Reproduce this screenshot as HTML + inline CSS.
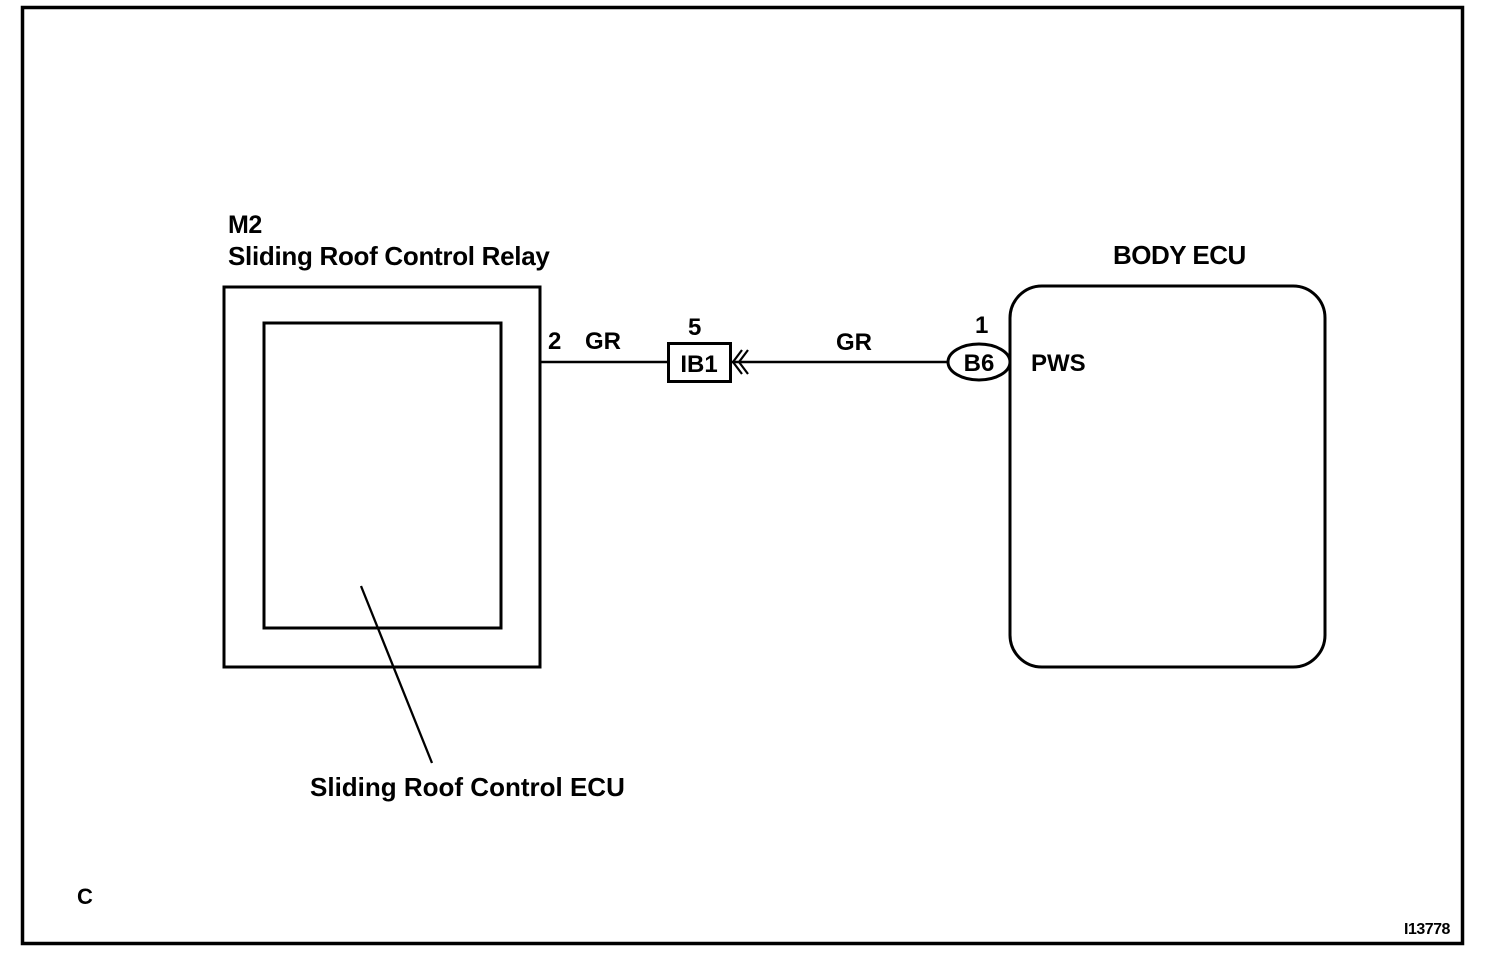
<!DOCTYPE html>
<html><head><style>
html,body{margin:0;padding:0;background:#fff;}
svg{display:block;}
text{font-family:"Liberation Sans",Arial,sans-serif;fill:#000;font-weight:bold;}
</style></head><body>
<svg width="1504" height="968" viewBox="0 0 1504 968" xmlns="http://www.w3.org/2000/svg">
<rect x="22.5" y="7.5" width="1440" height="936" fill="none" stroke="#000" stroke-width="3.5"/>
<!-- relay -->
<rect x="224" y="287" width="316" height="380" fill="none" stroke="#000" stroke-width="3"/>
<rect x="264" y="323" width="237" height="305" fill="none" stroke="#000" stroke-width="3"/>
<line x1="361" y1="586" x2="432" y2="763" stroke="#000" stroke-width="2.3"/>
<text x="228" y="233" font-size="25" letter-spacing="-0.5">M2</text>
<text x="228" y="265" font-size="26" letter-spacing="-0.3">Sliding Roof Control Relay</text>
<text x="310" y="796" font-size="26" letter-spacing="0">Sliding Roof Control ECU</text>
<!-- wire -->
<line x1="540" y1="362" x2="668" y2="362" stroke="#000" stroke-width="2.5"/>
<line x1="732" y1="362" x2="948" y2="362" stroke="#000" stroke-width="2.5"/>
<rect x="668.5" y="343.5" width="62" height="38" fill="#fff" stroke="#000" stroke-width="3"/>
<text x="699" y="372" font-size="24" text-anchor="middle">IB1</text>
<polyline points="742,350 733,362 742,374" fill="none" stroke="#000" stroke-width="2.2"/>
<polyline points="748,350 739,362 748,374" fill="none" stroke="#000" stroke-width="2.2"/>
<text x="548" y="349" font-size="24">2</text>
<text x="585" y="349" font-size="24">GR</text>
<text x="688" y="335" font-size="24">5</text>
<text x="836" y="350" font-size="24">GR</text>
<text x="975" y="333" font-size="24">1</text>
<ellipse cx="979" cy="362" rx="31" ry="18" fill="#fff" stroke="#000" stroke-width="3"/>
<text x="979" y="371" font-size="24" text-anchor="middle">B6</text>
<!-- body ECU -->
<rect x="1010" y="286" width="315" height="381" rx="32" ry="32" fill="none" stroke="#000" stroke-width="3"/>
<text x="1113" y="264" font-size="26" letter-spacing="-0.5">BODY ECU</text>
<text x="1031" y="371" font-size="24">PWS</text>
<text x="77" y="904" font-size="22">C</text>
<text x="1404" y="934" font-size="16" letter-spacing="-0.5">I13778</text>
</svg>
</body></html>
